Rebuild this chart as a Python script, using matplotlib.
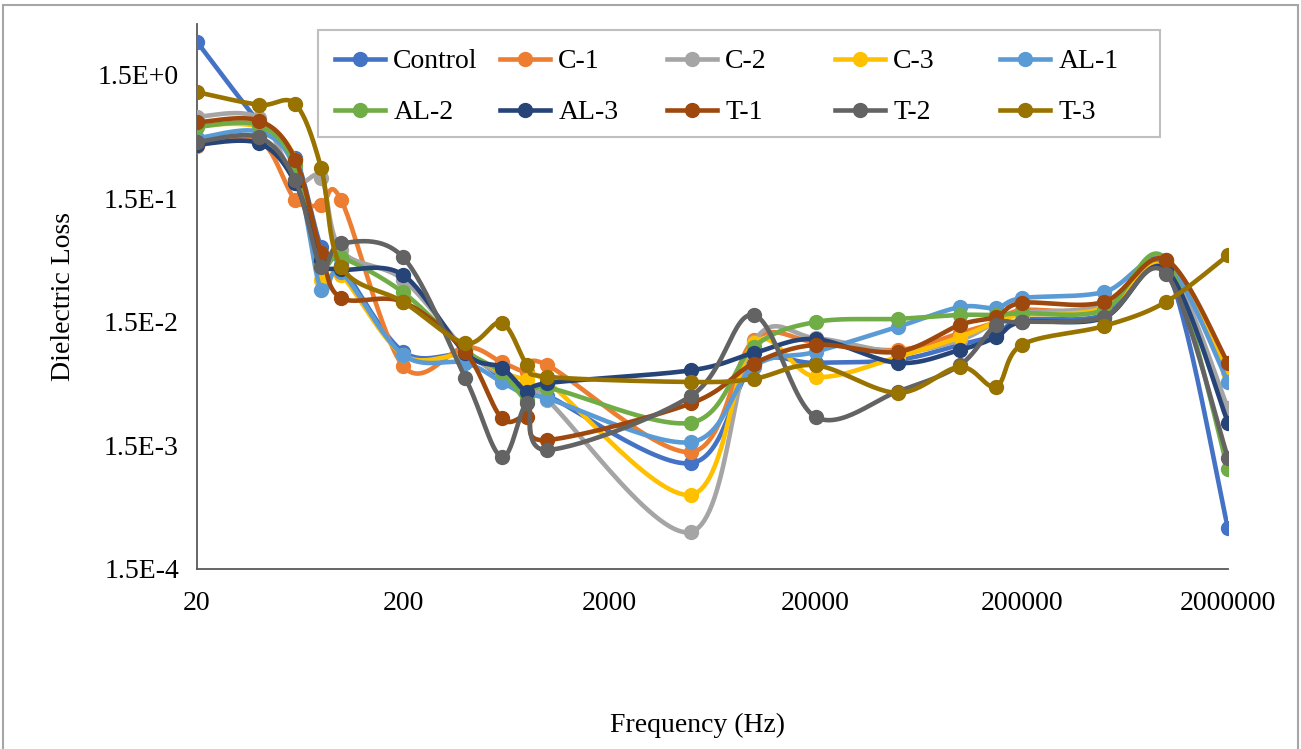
import numpy as np
import matplotlib
matplotlib.use("Agg")
import matplotlib.pyplot as plt
from matplotlib.lines import Line2D
from matplotlib.patches import Rectangle

plt.rcParams['font.family'] = ['Liberation Serif', 'DejaVu Serif']

# frequency points (Hz)
freq = [20, 40, 60, 80, 100, 200, 400, 600, 800, 1000, 5000, 10000, 20000,
        50000, 100000, 150000, 200000, 500000, 1000000, 2000000]

control = [2.78, 0.62, 0.32, 0.061, 0.043, 0.0086, 0.0081, 0.0053, 0.0040, 0.0038,
           0.00108, 0.0067, 0.0070, 0.0074, 0.0098, 0.0118, 0.0156, 0.0171, 0.041, 0.00032]
c1 = [0.40, 0.45, 0.146, 0.133, 0.146, 0.0066, 0.0094, 0.0071, 0.0059, 0.0067,
      0.00133, 0.0107, 0.0103, 0.0089, 0.0122, 0.015, 0.0187, 0.0195, 0.046, 0.0067]
c2 = [0.69, 0.67, 0.21, 0.22, 0.057, 0.033, 0.0089, 0.0056, 0.0044, 0.0035,
      0.00030, 0.0103, 0.0111, 0.0086, 0.0107, 0.015, 0.0177, 0.0206, 0.043, 0.0030]
c3 = [0.59, 0.57, 0.31, 0.033, 0.036, 0.0081, 0.0081, 0.0059, 0.0051, 0.0049,
      0.00060, 0.0101, 0.0054, 0.0078, 0.0113, 0.015, 0.0171, 0.0195, 0.046, 0.0059]
al1 = [0.46, 0.52, 0.255, 0.027, 0.038, 0.0081, 0.0070, 0.0049, 0.0038, 0.0036,
       0.0016, 0.0065, 0.0086, 0.0137, 0.0198, 0.0195, 0.0234, 0.0262, 0.045, 0.0049]
al2 = [0.57, 0.59, 0.28, 0.046, 0.050, 0.026, 0.0089, 0.0059, 0.0035, 0.0044,
       0.0023, 0.0094, 0.015, 0.0159, 0.0171, 0.0171, 0.0177, 0.0187, 0.048, 0.00097]
al3 = [0.41, 0.42, 0.20, 0.048, 0.040, 0.036, 0.0084, 0.0064, 0.0041, 0.0048,
       0.0061, 0.0084, 0.0109, 0.0070, 0.0089, 0.0113, 0.015, 0.0162, 0.040, 0.0023]
t1 = [0.62, 0.64, 0.31, 0.054, 0.0235, 0.0218, 0.0086, 0.0025, 0.00255, 0.00166,
      0.0033, 0.0069, 0.0098, 0.0086, 0.0142, 0.0165, 0.0214, 0.0218, 0.048, 0.0070]
t2 = [0.43, 0.47, 0.21, 0.042, 0.065, 0.050, 0.0053, 0.00121, 0.0033, 0.00138,
      0.0038, 0.0171, 0.00255, 0.0041, 0.0067, 0.0142, 0.015, 0.0165, 0.037, 0.00119]
t3 = [1.09, 0.86, 0.87, 0.265, 0.042, 0.0218, 0.0101, 0.0148, 0.0067, 0.0054,
      0.0049, 0.0052, 0.0067, 0.0040, 0.0065, 0.0045, 0.0098, 0.0139, 0.0218, 0.052]

names = ['Control', 'C-1', 'C-2', 'C-3', 'AL-1', 'AL-2', 'AL-3', 'T-1', 'T-2', 'T-3']
values = [control, c1, c2, c3, al1, al2, al3, t1, t2, t3]
colors = ['#4472C4', '#ED7D31', '#A5A5A5', '#FFC000', '#5B9BD5',
          '#70AD47', '#264478', '#9E480E', '#636363', '#997300']

y_ticks = [1.5e-4, 1.5e-3, 1.5e-2, 1.5e-1, 1.5]
y_labels = ['1.5E-4', '1.5E-3', '1.5E-2', '1.5E-1', '1.5E+0']
x_ticks = [20, 200, 2000, 20000, 200000, 2000000]
x_labels = ['20', '200', '2000', '20000', '200000', '2000000']

W, H = 1301, 749


def smooth_curve(ax, xs, ys, steps=30):
  # excel-like smoothing: bezier through the points, done in pixel space
  pts = ax.transData.transform(np.column_stack([xs, ys]))
  n = len(pts)
  out = [pts[0]]
  t = np.linspace(0, 1, steps)[1:, None]
  for i in range(n - 1):
    p0 = pts[i - 1] if i > 0 else pts[i]
    p1 = pts[i]
    p2 = pts[i + 1]
    p3 = pts[i + 2] if i + 2 < n else pts[i + 1]
    k1 = p1 + (p2 - p0) / 6.0
    k2 = p2 - (p3 - p1) / 6.0
    seg = (1 - t) ** 3 * p1 + 3 * (1 - t) ** 2 * t * k1 + 3 * (1 - t) * t ** 2 * k2 + t ** 3 * p2
    out.extend(seg)
  data = ax.transData.inverted().transform(np.array(out))
  return data[:, 0], data[:, 1]


fig = plt.figure(figsize=(W / 100, H / 100), dpi=100)
fig.subplots_adjust(left=197 / W, right=1228 / W, bottom=1 - 569 / H, top=1 - 24 / H)
ax = fig.add_subplot(111)

# outer chart frame (bottom is cut off in the original)
fig.patches.append(Rectangle((3 / W, -0.05), 1295 / W, 1.05 - 5 / H,
                             transform=fig.transFigure, fill=False,
                             edgecolor='#A6A6A6', linewidth=1.5))

ax.set_xscale('log')
ax.set_yscale('log')
ax.set_xlim(20, 2000000)
ax.set_ylim(1.5e-4, 3.88)

for name, vals, col in zip(names, values, colors):
  sx, sy = smooth_curve(ax, freq, vals)
  ax.plot(sx, sy, color=col, linewidth=3.3, solid_capstyle='round', zorder=3)
  ax.plot(freq, vals, linestyle='none', marker='o', markersize=10,
          color=col, zorder=3)

ax.set_yticks(y_ticks)
ax.set_yticklabels(y_labels)
ax.set_xticks(x_ticks)
ax.set_xticklabels(x_labels)
ax.minorticks_off()
ax.tick_params(axis='both', length=0, labelsize=20, colors='black')
ax.tick_params(axis='y', pad=13)
ax.tick_params(axis='x', pad=16)

for side in ['top', 'right']:
  ax.spines[side].set_visible(False)
for side in ['left', 'bottom']:
  ax.spines[side].set_color('#595959')
  ax.spines[side].set_linewidth(1.3)

ax.set_ylabel('Dielectric Loss', fontsize=20, labelpad=16)
fig.text(697 / W, 1 - 725 / H, 'Frequency (Hz)', fontsize=20,
         ha='center', va='center')

# legend: excel-style even columns, one small legend per column
fig.patches.append(Rectangle((318 / W, 1 - 137 / H), 842 / W, 107 / H,
                             transform=fig.transFigure, facecolor='white',
                             edgecolor='#BFBFBF', linewidth=1.5, zorder=4))
col_x = [335, 500, 667, 835, 1000]
for j in range(5):
  hs = [Line2D([], [], color=colors[k], linewidth=3.3, marker='o', markersize=10)
        for k in (j, j + 5)]
  lg = fig.legend(hs, [names[j], names[j + 5]], loc='upper left',
                  bbox_to_anchor=(col_x[j] / W, 1 - 49 / H), bbox_transform=fig.transFigure,
                  borderaxespad=0, borderpad=0, fontsize=20, handlelength=1.8,
                  handletextpad=0.3, labelspacing=0.92, frameon=False)
  lg.set_zorder(5)

fig.savefig('out.png', dpi=100)
